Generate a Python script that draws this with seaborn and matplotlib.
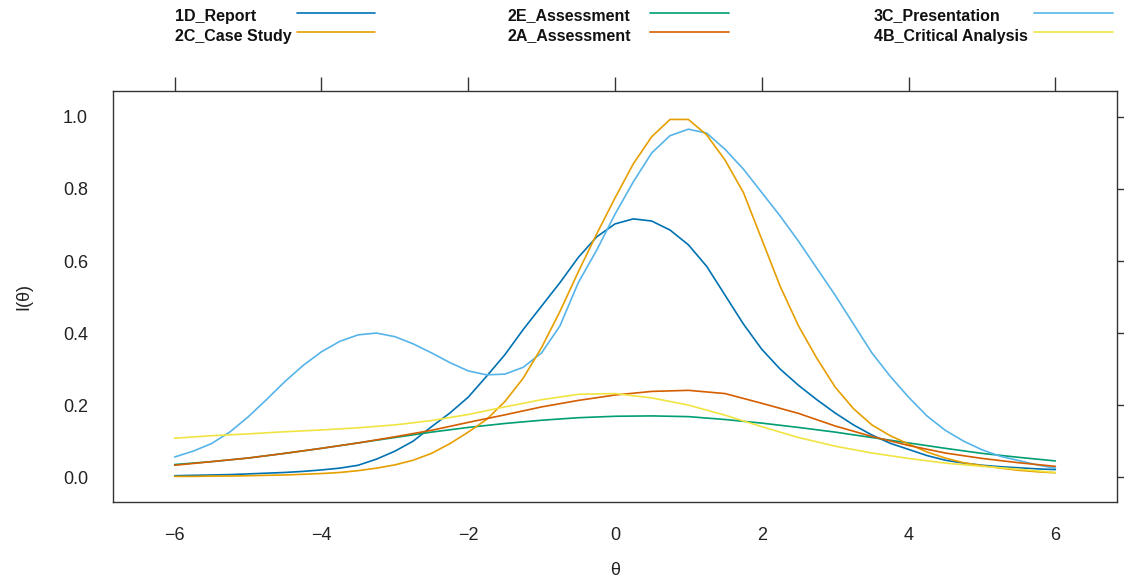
import numpy as np
import pandas as pd
import seaborn as sns
import matplotlib.pyplot as plt
from matplotlib.lines import Line2D

# theta grids
theta_fine = np.arange(-6, 6.01, 0.25)
theta_coarse = np.arange(-6, 6.01, 0.5)

report_1d = [0.004, 0.005, 0.006, 0.007, 0.009, 0.011, 0.013, 0.016, 0.020, 0.025,
             0.033, 0.050, 0.072, 0.100, 0.140, 0.178, 0.222, 0.280, 0.340, 0.410,
             0.475, 0.540, 0.610, 0.667, 0.703, 0.717, 0.711, 0.686, 0.645, 0.585,
             0.505, 0.425, 0.355, 0.300, 0.255, 0.215, 0.178, 0.145, 0.117, 0.094,
             0.077, 0.060, 0.047, 0.039, 0.033, 0.029, 0.026, 0.023, 0.021]
case_2c = [0.002, 0.002, 0.003, 0.003, 0.004, 0.005, 0.006, 0.008, 0.010, 0.013,
           0.018, 0.025, 0.034, 0.047, 0.066, 0.093, 0.125, 0.160, 0.210, 0.275,
           0.360, 0.460, 0.570, 0.675, 0.775, 0.870, 0.945, 0.993, 0.993, 0.950,
           0.880, 0.790, 0.660, 0.530, 0.420, 0.330, 0.250, 0.190, 0.145, 0.115,
           0.092, 0.070, 0.053, 0.040, 0.032, 0.025, 0.019, 0.015, 0.012]
present_3c = [0.056, 0.072, 0.093, 0.125, 0.167, 0.215, 0.265, 0.310, 0.348, 0.377,
              0.395, 0.400, 0.390, 0.370, 0.345, 0.318, 0.295, 0.284, 0.286, 0.305,
              0.345, 0.420, 0.540, 0.630, 0.730, 0.820, 0.900, 0.948, 0.966, 0.955,
              0.910, 0.855, 0.790, 0.725, 0.655, 0.580, 0.505, 0.425, 0.345, 0.280,
              0.222, 0.170, 0.130, 0.100, 0.076, 0.058, 0.046, 0.034, 0.025]

assess_2e = [0.035, 0.043, 0.053, 0.066, 0.080, 0.095, 0.110, 0.125, 0.138, 0.149,
             0.158, 0.165, 0.169, 0.170, 0.168, 0.160, 0.150, 0.138, 0.125, 0.110,
             0.095, 0.080, 0.066, 0.055, 0.045]
assess_2a = [0.033, 0.043, 0.053, 0.066, 0.080, 0.095, 0.112, 0.130, 0.152, 0.173,
             0.195, 0.213, 0.228, 0.238, 0.241, 0.232, 0.205, 0.177, 0.142, 0.113,
             0.088, 0.067, 0.052, 0.040, 0.030]
critical_4b = [0.108, 0.115, 0.120, 0.126, 0.131, 0.137, 0.145, 0.157, 0.174, 0.195,
               0.215, 0.230, 0.232, 0.220, 0.200, 0.172, 0.140, 0.110, 0.086, 0.067,
               0.052, 0.039, 0.030, 0.022, 0.013]

items = ["1D_Report", "2E_Assessment", "3C_Presentation",
         "2C_Case Study", "2A_Assessment", "4B_Critical Analysis"]
colors = ["#0072B2", "#009E73", "#56B4E9", "#E69F00", "#D55E00", "#F0E442"]

series = {
    "1D_Report": (theta_fine, report_1d),
    "2E_Assessment": (theta_coarse, assess_2e),
    "3C_Presentation": (theta_fine, present_3c),
    "2C_Case Study": (theta_fine, case_2c),
    "2A_Assessment": (theta_coarse, assess_2a),
    "4B_Critical Analysis": (theta_coarse, critical_4b),
}
df = pd.concat([pd.DataFrame({"theta": t, "info": v, "item": k})
                for k, (t, v) in series.items()], ignore_index=True)

sns.set_style("white")
plt.rcParams['font.family'] = ['Liberation Sans', 'DejaVu Sans']

fig = plt.figure(figsize=(11.24, 5.8), dpi=100)
ax = fig.add_axes([113 / 1124, 1 - 502 / 580, 1004 / 1124, 411 / 580])

sns.lineplot(data=df, x="theta", y="info", hue="item", hue_order=items,
             palette=dict(zip(items, colors)), estimator=None, sort=False,
             linewidth=1.2, legend=False, ax=ax,
             solid_joinstyle="round", solid_capstyle="round")

ax.set_xlim(-6.84, 6.84)
ax.set_ylim(-0.069, 1.072)
ax.set_xticks([-6, -4, -2, 0, 2, 4, 6])
ax.set_xticklabels(["\u22126", "\u22124", "\u22122", "0", "2", "4", "6"])
ax.set_yticks([0, 0.2, 0.4, 0.6, 0.8, 1.0])
ax.set_yticklabels(["0.0", "0.2", "0.4", "0.6", "0.8", "1.0"])
ax.tick_params(axis="both", direction="out", length=10, width=1, color="#333333",
               labelsize=13, labelcolor="#222222", pad=8,
               top=True, right=True, labeltop=False, labelright=False)
for s in ax.spines.values():
    s.set_color("#333333")
    s.set_linewidth(1)
ax.set_xlabel("\u03b8", fontsize=13, color="#222222", labelpad=13)
ax.set_ylabel("I(\u03b8)", fontsize=13, color="#222222", labelpad=22)

# key at the top, 3 columns x 2 rows
cols_x = [(175, 297, 375), (507, 650, 729), (874, 1034, 1113)]
rows_y = [(16, 13), (36, 32)]
for i, (name, col) in enumerate(zip(items, colors)):
    c, r = i % 3, i // 3
    tx, lx0, lx1 = cols_x[c]
    ty, ly = rows_y[r]
    fig.text(tx / 1124, 1 - ty / 580, name, fontsize=11.5, fontweight="bold",
             color="#111111", ha="left", va="center")
    fig.add_artist(Line2D([lx0 / 1124, lx1 / 1124], [1 - ly / 580, 1 - ly / 580],
                          color=col, linewidth=1.2, transform=fig.transFigure))

fig.savefig("out.png", dpi=100)
